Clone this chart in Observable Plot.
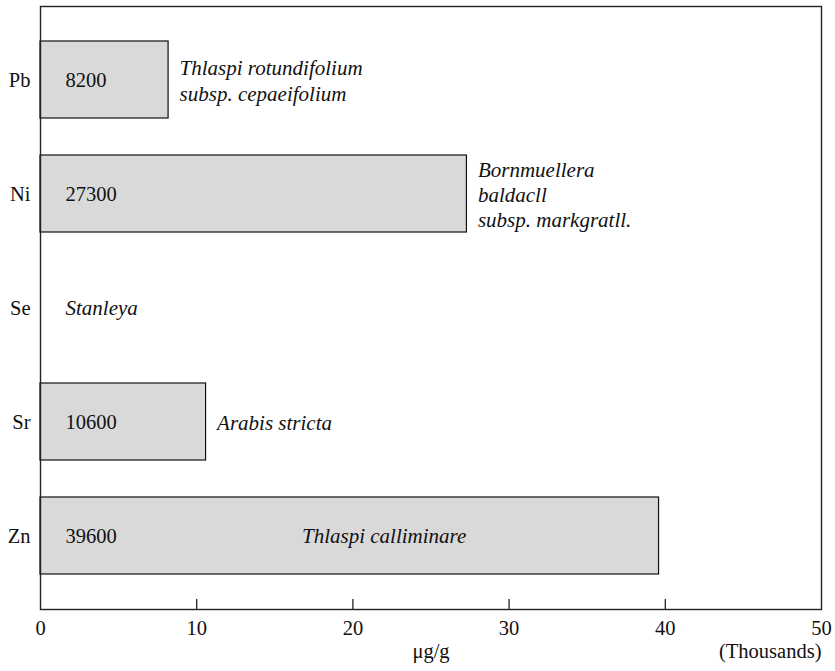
<!DOCTYPE html>
<html>
<head>
<meta charset="utf-8">
<script src="https://cdn.jsdelivr.net/npm/d3@7"></script>
<script src="https://cdn.jsdelivr.net/npm/@observablehq/plot@0.6"></script>
<style>
  html, body { margin: 0; padding: 0; background: #fff; }
  svg { font-family: "Liberation Serif", "DejaVu Serif", serif; }
</style>
</head>
<body>
<div id="chart"></div>
<script>
// Data (μg/g)
const elements = ["Pb", "Ni", "Se", "Sr", "Zn"];
const values = [8200, 27300, null, 10600, 39600];
const species = [
  "Thlaspi rotundifolium\nsubsp. cepaeifolium",
  "Bornmuellera\nbaldacll\nsubsp. markgratll.",
  "Stanleya",
  "Arabis stricta",
  "Thlaspi calliminare"
];
const xTicks = [0, 10, 20, 30, 40, 50];

const rows = elements.map((e, i) => ({
  element: e,
  value: values[i],
  k: values[i] == null ? null : values[i] / 1000,
  species: species[i]
}));
const bars = rows.filter(d => d.k != null);
const outside = rows.filter(d => d.k != null && d.element !== "Zn");
const noBar = rows.filter(d => d.k == null);
const inside = rows.filter(d => d.element === "Zn");

const FS = 20.5;
const FI = 21;
const chart = Plot.plot({
  width: 835,
  height: 671,
  marginLeft: 40,
  marginRight: 14,
  marginTop: 6,
  marginBottom: 62,
  style: { fontFamily: '"Liberation Serif", "DejaVu Serif", serif', fontSize: FS + "px", color: "#111", background: "#fff" },
  x: { domain: [0, 50], label: null },
  y: { domain: elements, paddingInner: 0.327, paddingOuter: 0.3, label: null },
  marks: [
    Plot.barX(bars, { x: "k", y: "element", fill: "#d9d9d9", stroke: "#111", strokeWidth: 1.2 }),
    Plot.text(bars, { x: 1.6, y: "element", text: d => String(d.value), textAnchor: "start", fontSize: FS, fill: "#111" }),
    Plot.text(outside, { x: "k", y: "element", text: "species", textAnchor: "start", dx: 11, fontStyle: "italic", fontSize: FI, lineHeight: 1.2, fill: "#111" }),
    Plot.text(noBar, { x: 1.6, y: "element", text: "species", textAnchor: "start", fontStyle: "italic", fontSize: FI, fill: "#111" }),
    Plot.text(inside, { x: 22, y: "element", text: "species", textAnchor: "middle", fontStyle: "italic", fontSize: FI, fill: "#111" }),
    Plot.frame({ stroke: "#222", strokeWidth: 1.4 }),
    Plot.axisY({ tickSize: 0, tickPadding: 10, fontSize: FS, label: null }),
    Plot.axisX({ ticks: xTicks, tickSize: 0, tickPadding: 11, fontSize: FS, label: null }),
    Plot.axisX({ ticks: xTicks.slice(1, -1), tickSize: 10, dy: -10, tickFormat: () => "", label: null, stroke: "#222", strokeWidth: 1.3 }),
    Plot.text(["μg/g"], { x: 25, frameAnchor: "bottom", dy: 48, fontSize: FS, fill: "#111" }),
    Plot.text(["(Thousands)"], { x: 50, frameAnchor: "bottom", dy: 48, textAnchor: "end", fontSize: FS, fill: "#111" })
  ]
});
document.getElementById("chart").appendChild(chart);
</script>
</body>
</html>
